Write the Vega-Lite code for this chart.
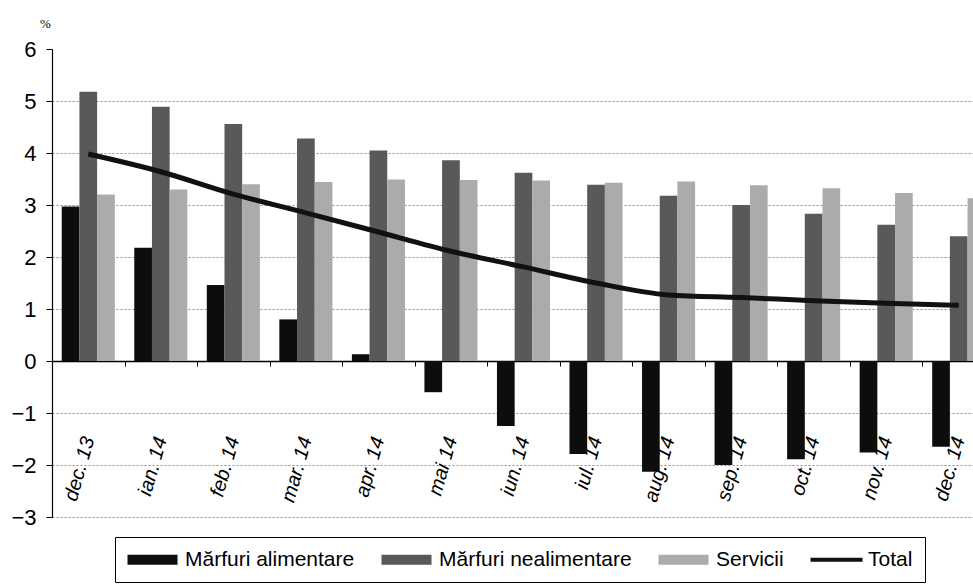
{
  "$schema": "https://vega.github.io/schema/vega-lite/v6.json",
  "width": 921,
  "height": 468,
  "autosize": {"type": "none"},
  "padding": {"left": 52, "top": 49, "right": 0, "bottom": 71},
  "background": "white",
  "config": {"view": {"stroke": null}, "font": "Liberation Sans"},
  "datasets": {
    "bars": [
      {"luna": "dec. 13", "serie": "Mărfuri alimentare", "valoare": 2.97},
      {"luna": "dec. 13", "serie": "Mărfuri nealimentare", "valoare": 5.18},
      {"luna": "dec. 13", "serie": "Servicii", "valoare": 3.2},
      {"luna": "ian. 14", "serie": "Mărfuri alimentare", "valoare": 2.18},
      {"luna": "ian. 14", "serie": "Mărfuri nealimentare", "valoare": 4.89},
      {"luna": "ian. 14", "serie": "Servicii", "valoare": 3.3},
      {"luna": "feb. 14", "serie": "Mărfuri alimentare", "valoare": 1.46},
      {"luna": "feb. 14", "serie": "Mărfuri nealimentare", "valoare": 4.56},
      {"luna": "feb. 14", "serie": "Servicii", "valoare": 3.4},
      {"luna": "mar. 14", "serie": "Mărfuri alimentare", "valoare": 0.8},
      {"luna": "mar. 14", "serie": "Mărfuri nealimentare", "valoare": 4.28},
      {"luna": "mar. 14", "serie": "Servicii", "valoare": 3.44},
      {"luna": "apr. 14", "serie": "Mărfuri alimentare", "valoare": 0.13},
      {"luna": "apr. 14", "serie": "Mărfuri nealimentare", "valoare": 4.05},
      {"luna": "apr. 14", "serie": "Servicii", "valoare": 3.49},
      {"luna": "mai 14", "serie": "Mărfuri alimentare", "valoare": -0.6},
      {"luna": "mai 14", "serie": "Mărfuri nealimentare", "valoare": 3.86},
      {"luna": "mai 14", "serie": "Servicii", "valoare": 3.48},
      {"luna": "iun. 14", "serie": "Mărfuri alimentare", "valoare": -1.25},
      {"luna": "iun. 14", "serie": "Mărfuri nealimentare", "valoare": 3.62},
      {"luna": "iun. 14", "serie": "Servicii", "valoare": 3.47},
      {"luna": "iul. 14", "serie": "Mărfuri alimentare", "valoare": -1.79},
      {"luna": "iul. 14", "serie": "Mărfuri nealimentare", "valoare": 3.39},
      {"luna": "iul. 14", "serie": "Servicii", "valoare": 3.43},
      {"luna": "aug. 14", "serie": "Mărfuri alimentare", "valoare": -2.13},
      {"luna": "aug. 14", "serie": "Mărfuri nealimentare", "valoare": 3.18},
      {"luna": "aug. 14", "serie": "Servicii", "valoare": 3.45},
      {"luna": "sep. 14", "serie": "Mărfuri alimentare", "valoare": -2.0},
      {"luna": "sep. 14", "serie": "Mărfuri nealimentare", "valoare": 3.0},
      {"luna": "sep. 14", "serie": "Servicii", "valoare": 3.38},
      {"luna": "oct. 14", "serie": "Mărfuri alimentare", "valoare": -1.89},
      {"luna": "oct. 14", "serie": "Mărfuri nealimentare", "valoare": 2.83},
      {"luna": "oct. 14", "serie": "Servicii", "valoare": 3.32},
      {"luna": "nov. 14", "serie": "Mărfuri alimentare", "valoare": -1.76},
      {"luna": "nov. 14", "serie": "Mărfuri nealimentare", "valoare": 2.62},
      {"luna": "nov. 14", "serie": "Servicii", "valoare": 3.23},
      {"luna": "dec. 14", "serie": "Mărfuri alimentare", "valoare": -1.65},
      {"luna": "dec. 14", "serie": "Mărfuri nealimentare", "valoare": 2.4},
      {"luna": "dec. 14", "serie": "Servicii", "valoare": 3.13}
    ],
    "total": [
      {"luna": "dec. 13", "valoare": 3.98},
      {"luna": "ian. 14", "valoare": 3.64},
      {"luna": "feb. 14", "valoare": 3.21},
      {"luna": "mar. 14", "valoare": 2.85},
      {"luna": "apr. 14", "valoare": 2.48},
      {"luna": "mai 14", "valoare": 2.11},
      {"luna": "iun. 14", "valoare": 1.81},
      {"luna": "iul. 14", "valoare": 1.5},
      {"luna": "aug. 14", "valoare": 1.27},
      {"luna": "sep. 14", "valoare": 1.22},
      {"luna": "oct. 14", "valoare": 1.16},
      {"luna": "nov. 14", "valoare": 1.11},
      {"luna": "dec. 14", "valoare": 1.07}
    ]
  },
  "layer": [
    {
      "data": {"name": "bars"},
      "mark": {"type": "bar", "clip": true},
      "encoding": {
        "x": {
          "field": "luna",
          "type": "nominal",
          "sort": ["dec. 13", "ian. 14", "feb. 14", "mar. 14", "apr. 14", "mai 14", "iun. 14", "iul. 14", "aug. 14", "sep. 14", "oct. 14", "nov. 14", "dec. 14"],
          "scale": {"range": [0, 943], "paddingInner": 0, "paddingOuter": 0},
          "axis": {
            "orient": "bottom",
            "offset": -156,
            "title": null,
            "domain": true,
            "domainColor": "#000000",
            "domainWidth": 1.5,
            "ticks": true,
            "tickBand": "extent",
            "tickColor": "#000000",
            "tickSize": 5,
            "grid": false,
            "labelAngle": -74,
            "labelAlign": "right",
            "labelBaseline": "middle",
            "labelPadding": 71,
            "labelFont": "Liberation Sans",
            "labelFontSize": 20,
            "labelFontStyle": "italic",
            "labelColor": "#000000",
            "labelOverlap": false,
            "labelBound": false,
            "labelFlush": false
          }
        },
        "xOffset": {
          "field": "serie",
          "type": "nominal",
          "sort": ["Mărfuri alimentare", "Mărfuri nealimentare", "Servicii"],
          "scale": {"paddingInner": 0, "paddingOuter": 0.55}
        },
        "y": {
          "field": "valoare",
          "type": "quantitative",
          "scale": {"domain": [-3, 6], "nice": false, "zero": false},
          "axis": {
            "title": "%",
            "titleAngle": 0,
            "titleFont": "Liberation Serif",
            "titleFontSize": 13,
            "titleFontWeight": "normal",
            "titleColor": "#000000",
            "titleX": -7,
            "titleY": -26,
            "titleAlign": "center",
            "titleBaseline": "middle",
            "values": [-3, -2, -1, 0, 1, 2, 3, 4, 5, 6],
            "domainColor": "#000000",
            "domainWidth": 1.2,
            "tickColor": "#000000",
            "tickSize": 6,
            "labelFont": "Liberation Sans",
            "labelFontSize": 22,
            "labelPadding": 10,
            "labelColor": "#000000",
            "grid": true,
            "gridColor": "#8c8c8c",
            "gridDash": [2, 2],
            "gridWidth": 1,
            "gridOpacity": {"condition": {"test": "datum.value === 6", "value": 0}, "value": 1}
          }
        },
        "color": {
          "field": "serie",
          "type": "nominal",
          "scale": {
            "domain": ["Mărfuri alimentare", "Mărfuri nealimentare", "Servicii", "Total"],
            "range": ["#0d0d0d", "#595959", "#ababab", "#111111"]
          },
          "legend": {
            "orient": "none",
            "legendX": 63,
            "legendY": 488,
            "direction": "horizontal",
            "title": null,
            "strokeColor": "#000000",
            "fillColor": "#ffffff",
            "padding": 12,
            "labelFont": "Liberation Sans",
            "labelFontSize": 21,
            "labelColor": "#000000",
            "labelLimit": 400,
            "symbolSize": 400,
            "symbolStrokeWidth": 0,
            "symbolOpacity": 1,
            "labelOffset": 37,
            "columnPadding": 26,
            "encode": {
              "symbols": {
                "update": {
                  "shape": {"signal": "datum.value === 'Total' ? 'M-1,-0.2H4.2V0.2H-1Z' : 'M-1,-0.5H4V0.5H-1Z'"},
                  "fill": {"scale": "color", "field": "value"}
                }
              }
            }
          }
        }
      }
    },
    {
      "data": {"name": "total"},
      "mark": {"type": "line", "interpolate": "monotone", "strokeWidth": 5, "clip": true},
      "encoding": {
        "x": {
          "field": "luna",
          "type": "nominal",
          "sort": ["dec. 13", "ian. 14", "feb. 14", "mar. 14", "apr. 14", "mai 14", "iun. 14", "iul. 14", "aug. 14", "sep. 14", "oct. 14", "nov. 14", "dec. 14"]
        },
        "y": {"field": "valoare", "type": "quantitative"},
        "color": {"datum": "Total"}
      }
    }
  ]
}
